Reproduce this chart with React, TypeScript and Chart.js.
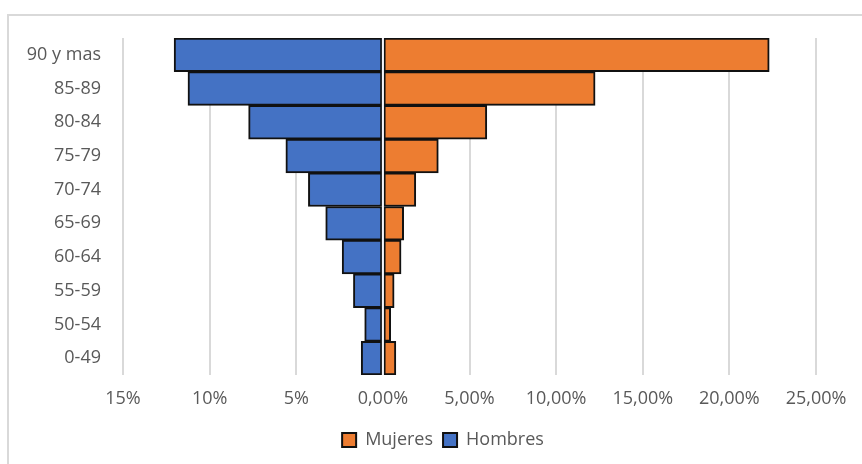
import React, { useEffect, useRef } from "react";
import { Chart, registerables } from "chart.js";

Chart.register(...registerables);

const categories = ["90 y mas", "85-89", "80-84", "75-79", "70-74", "65-69", "60-64", "55-59", "50-54", "0-49"];
const mujeres = [22.3, 12.25, 6.0, 3.2, 1.9, 1.2, 1.05, 0.65, 0.45, 0.75];
const hombres = [12.05, 11.25, 7.75, 5.6, 4.3, 3.3, 2.35, 1.7, 1.05, 1.25];
const xTicks = [-15, -10, -5, 0, 5, 10, 15, 20, 25];

const FONT = "'Open Sans', sans-serif";
const TEXT = "#595959";

const framePlugin = {
  id: "frame",
  beforeDraw(chart: any) {
    const { ctx } = chart;
    ctx.save();
    ctx.strokeStyle = "#d9d9d9";
    ctx.lineWidth = 2;
    ctx.beginPath();
    ctx.moveTo(chart.width + 5, 15);
    ctx.lineTo(8, 15);
    ctx.lineTo(8, chart.height + 5);
    ctx.stroke();
    ctx.restore();
  },
  afterLayout(chart: any) {
    const lg = chart.legend;
    if (lg) {
      lg.left += 30;
      lg.right += 30;
    }
  },
};

const zeroLinePlugin = {
  id: "zeroLine",
  afterDatasetsDraw(chart: any) {
    const { ctx, chartArea } = chart;
    const x = chart.scales.x.getPixelForValue(0);
    ctx.save();
    ctx.strokeStyle = "rgba(245,245,252,0.95)";
    ctx.lineWidth = 2;
    ctx.beginPath();
    ctx.moveTo(x, chartArea.top);
    ctx.lineTo(x, chartArea.bottom);
    ctx.stroke();
    ctx.restore();
  },
};

export default function App() {
  const ref = useRef<HTMLCanvasElement>(null);

  useEffect(() => {
    if (!ref.current) return;
    const chart = new Chart(ref.current, {
      type: "bar",
      data: {
        labels: categories,
        datasets: [
          {
            label: "Mujeres",
            data: mujeres,
            backgroundColor: "#ED7D31",
            borderColor: "#111111",
            borderWidth: 2,
            borderSkipped: false,
            barPercentage: 1,
            categoryPercentage: 1,
          },
          {
            label: "Hombres",
            data: hombres.map((v) => -v),
            backgroundColor: "#4472C4",
            borderColor: "#111111",
            borderWidth: 2,
            borderSkipped: false,
            barPercentage: 1,
            categoryPercentage: 1,
          },
        ],
      },
      options: {
        indexAxis: "y",
        animation: false,
        responsive: false,
        maintainAspectRatio: false,
        layout: { padding: { left: 10, right: 46, top: 38, bottom: 5 } },
        scales: {
          x: {
            stacked: true,
            min: -15,
            max: 25,
            afterBuildTicks: (scale: any) => {
              scale.ticks = xTicks.map((v) => ({ value: v }));
            },
            afterFit: (scale: any) => {
              scale.height = 46;
            },
            grid: { color: "#d9d9d9", lineWidth: 2, drawTicks: false },
            border: { display: false },
            ticks: {
              padding: 13,
              color: TEXT,
              font: { family: FONT, size: 18 },
              callback: (v: any) => {
                const n = Number(v);
                if (n < 0) return `${Math.abs(n)}%`;
                return `${n.toFixed(2).replace(".", ",")}%`;
              },
            },
          },
          y: {
            stacked: true,
            afterFit: (scale: any) => {
              scale.width = 123 - 10;
            },
            grid: { display: false, drawTicks: false },
            border: { display: false },
            ticks: {
              padding: 22,
              color: TEXT,
              font: { family: FONT, size: 18 },
            },
          },
        },
        plugins: {
          legend: {
            position: "bottom",
            labels: {
              color: TEXT,
              font: { family: FONT, size: 18 },
              boxWidth: 14,
              boxHeight: 14,
              padding: 10,
            },
          },
          tooltip: { enabled: false },
        },
      },
      plugins: [framePlugin, zeroLinePlugin],
    });
    return () => chart.destroy();
  }, []);

  return (
    <div style={{ position: "absolute", left: 0, top: 0, width: 862, height: 464, background: "#fff" }}>
      <canvas ref={ref} width={862} height={464} style={{ display: "block" }} />
    </div>
  );
}
